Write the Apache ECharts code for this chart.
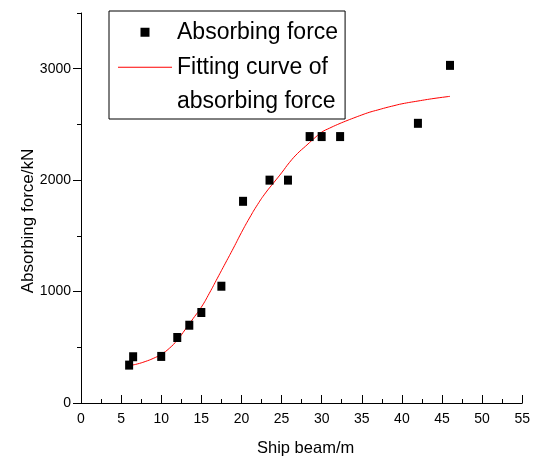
<!DOCTYPE html>
<html>
<head>
<meta charset="utf-8">
<script src="https://cdn.jsdelivr.net/npm/echarts@6/dist/echarts.min.js"></script>
<style>html,body{margin:0;padding:0;background:#fff}#c{width:533px;height:463px}</style>
</head>
<body>
<div id="c"></div>
<script>
// Measured points
var beam = [6, 6.5, 10, 12, 13.5, 15, 17.5, 20.2, 23.5, 25.8, 28.5, 30, 32.3, 42, 46];
var force = [340, 415, 418, 588, 698, 812, 1048, 1810, 2000, 2000, 2391, 2391, 2391, 2510, 3030];
// Fitting curve
var fitX = [6, 7, 8, 9, 10, 11, 12, 13, 14, 15, 16, 17, 18, 19, 20, 21, 22, 23, 24, 25, 26, 27, 28, 29, 30, 31, 32, 33, 34, 35, 36, 37, 38, 39, 40, 42, 44, 46];
var fitY = [335, 350, 372, 400, 437, 490, 565, 660, 760, 860, 985, 1120, 1255, 1390, 1530, 1660, 1780, 1885, 1975, 2065, 2160, 2240, 2305, 2370, 2430, 2467, 2500, 2530, 2558, 2585, 2610, 2630, 2650, 2668, 2685, 2710, 2733, 2752];
var yMajorTicks = [0, 1000, 2000, 3000];
var nameA = 'Absorbing force';
var nameB = 'Fitting curve of\nabsorbing force';

var font = 'Liberation Sans, Arial, sans-serif';
var chart = echarts.init(document.getElementById('c'));
chart.setOption({
  animation: false,
  backgroundColor: '#fff',
  grid: { left: 81, right: 8, top: 13, bottom: 60 },
  legend: {
    orient: 'vertical',
    left: 109, top: 11,
    padding: [4, 7, 0, 9],
    itemWidth: 54, itemHeight: 9,
    itemGap: -34,
    borderColor: '#000', borderWidth: 1,
    formatter: function (n) { return n === nameB ? '\n' + n : n; },
    textStyle: { fontSize: 23, lineHeight: 34.5, color: '#000', fontFamily: font },
    data: [
      { name: nameA, icon: 'path://M0,0L9,0L9,9L0,9Z' },
      { name: nameB, icon: 'path://M0,0L52,0L52,1L0,1Z' }
    ]
  },
  xAxis: {
    type: 'value', min: 0, max: 55, interval: 5,
    name: 'Ship beam/m', nameLocation: 'middle', nameGap: 37,
    nameTextStyle: { fontSize: 16.5, color: '#000', fontFamily: font, padding: [0, 0, 0, 8] },
    axisLine: { lineStyle: { color: '#000', width: 1 } },
    axisTick: { inside: true, length: 8, lineStyle: { color: '#000' } },
    minorTick: { show: true, splitNumber: 2, length: 4, lineStyle: { color: '#000' } },
    axisLabel: { fontSize: 14, color: '#000', margin: 9, fontFamily: font },
    splitLine: { show: false }
  },
  yAxis: [{
    type: 'value', min: 0, max: 3500, interval: 1000,
    name: 'Absorbing force/kN', nameLocation: 'middle', nameGap: 44, nameMoveOverlap: false,
    nameTextStyle: { fontSize: 17, color: '#000', fontFamily: font, padding: [0, 26, 0, 0] },
    axisLine: { show: true, lineStyle: { color: '#000', width: 1 } },
    axisTick: { show: true, length: 8, customValues: yMajorTicks, lineStyle: { color: '#000' } },
    axisLabel: { fontSize: 14, color: '#000', margin: 10, customValues: yMajorTicks, fontFamily: font,
      formatter: function (v) { return String(v); } },
    splitLine: { show: false }
  }, {
    type: 'value', min: 0, max: 3500, interval: 500, position: 'left',
    axisLine: { show: false },
    axisTick: { show: true, length: 4, lineStyle: { color: '#000' } },
    axisLabel: { show: false },
    splitLine: { show: false }
  }],
  series: [{
    name: nameA, type: 'scatter', symbol: 'rect', symbolSize: [8, 9],
    itemStyle: { color: '#000', opacity: 1 },
    data: beam.map(function (x, i) { return [x, force[i]]; }),
    z: 3
  }, {
    name: nameB, type: 'line', smooth: true, showSymbol: false, symbol: 'none',
    lineStyle: { color: '#ff0000', width: 1 },
    itemStyle: { color: '#ff0000' },
    data: fitX.map(function (x, i) { return [x, fitY[i]]; }),
    z: 2
  }]
});
</script>
</body>
</html>
